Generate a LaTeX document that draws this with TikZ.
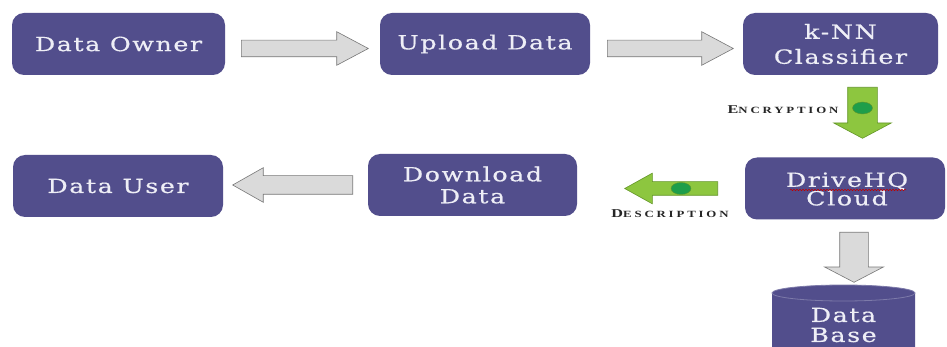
\documentclass[tikz,border=0pt]{standalone}
\usepackage{fontspec}
\setmainfont{Liberation Serif}
\newfontfamily\boxfont[FakeStretch=1.3,LetterSpace=8,FakeBold=0.6]{DejaVu Serif}
\newfontfamily\lblfont[FakeStretch=1.35,LetterSpace=30]{Liberation Serif Bold}
\usetikzlibrary{shapes.arrows,shapes.geometric,decorations.pathmorphing}
\definecolor{boxblue}{RGB}{82,78,140}
\definecolor{boxtext}{RGB}{238,238,246}
\definecolor{arrowgray}{RGB}{218,218,218}
\definecolor{arrowedge}{RGB}{120,120,120}
\definecolor{agreen}{RGB}{141,198,63}
\definecolor{agreenedge}{RGB}{100,150,40}
\definecolor{dotgreen}{RGB}{30,158,74}
\newcommand{\lblsc}[2]{{\fontsize{12}{12}\selectfont #1}{\fontsize{9.5}{9.5}\selectfont #2}}
\begin{document}
\begin{tikzpicture}[x=1pt,y=-1pt,
  box/.style={fill=boxblue, rounded corners=12pt, text=boxtext, align=center,
    inner sep=0pt, font=\boxfont\fontsize{19.5}{22}\selectfont},
  boxtxt/.style={text=boxtext, align=center, inner sep=0pt, font=\boxfont\fontsize{19.5}{20}\selectfont},
  blockarrow/.style={single arrow, single arrow head indent=0pt, inner xsep=0pt, line width=0.6pt, anchor=tail},
  grayarrow/.style={blockarrow, draw=arrowedge, fill=arrowgray},
  greenarrow/.style={blockarrow, draw=agreenedge, fill=agreen},
  gdot/.style={ellipse, fill=dotgreen, draw=agreenedge, minimum width=20pt, minimum height=12pt, inner sep=0pt},
  lbl/.style={font=\lblfont, text=black!85, inner sep=0pt}
]
\useasboundingbox (0,0) rectangle (947,347);
\clip (0,0) rectangle (947,347);
\fill[white] (0,0) rectangle (947,347);

% boxes
\node[box, minimum width=213pt, minimum height=62pt] (owner) at (118.5,44) {Data Owner};
\node[box, minimum width=210pt, minimum height=62pt] (upload) at (485,44) {Upload Data};
\node[box, minimum width=195pt, minimum height=62pt, font=\boxfont\fontsize{19.5}{25}\selectfont] (knn) at (840.5,44) {k-NN\\Classifier};
\node[box, minimum width=200pt, minimum height=62pt] (cloud) at (845,188.5) {};
\node[boxtxt, font=\boxfont\fontsize{19.5}{18.5}\selectfont] (cloudtxt) at (847,189) {DriveHQ\\Cloud};
\node[box, minimum width=209pt, minimum height=62pt] (download) at (472.5,185) {Download\\Data};
\node[box, minimum width=210pt, minimum height=62pt] (user) at (118,186) {Data User};

% spell-check squiggle
\draw[red!75!black, line width=0.5pt, decorate, decoration={snake, amplitude=0.7pt, segment length=3pt}]
  (790,190) -- (906,190);

% database cylinder
\path[fill=boxblue] (772,293) -- (772,352) arc[start angle=180, end angle=0, x radius=71.5, y radius=8]
  -- (915,293) arc[start angle=0, end angle=-180, x radius=71.5, y radius=8] -- cycle;
\draw[boxblue!75!white, line width=0.8pt] (843.5,293) ellipse[x radius=71.5, y radius=8];
\node[boxtxt] (db) at (843.5,325) {Data\\Base};

% arrows
\node[grayarrow, minimum height=127pt, inner ysep=8pt, single arrow head extend=8.5pt,
  single arrow tip angle=56] (a1) at (241,48.5) {};
\node[grayarrow, minimum height=126pt, inner ysep=8pt, single arrow head extend=8.5pt,
  single arrow tip angle=56] (a2) at (607,48.5) {};
\node[greenarrow, shape border rotate=270, minimum height=51pt, inner xsep=14.5pt, inner ysep=0pt,
  single arrow head extend=14pt, single arrow tip angle=124] (enc) at (862.5,87) {};
\node[gdot] (encdot) at (862.5,108) {};
\node[greenarrow, shape border rotate=180, minimum height=93pt, inner ysep=6.5pt,
  single arrow head extend=8.5pt, single arrow tip angle=58] (dec) at (718,188.5) {};
\node[gdot] (decdot) at (681,188.5) {};
\node[grayarrow, shape border rotate=180, minimum height=120pt, inner ysep=9pt,
  single arrow head extend=8pt, single arrow tip angle=59] (a3) at (353,185) {};
\node[grayarrow, shape border rotate=270, minimum height=50pt, inner xsep=14pt, inner ysep=0pt,
  single arrow head extend=15pt, single arrow tip angle=125] (a4) at (854,232) {};

% labels
\node[lbl] (enclbl) at (783,110) {\lblsc{E}{NCRYPTION}};
\node[lbl] (declbl) at (670,214) {\lblsc{D}{ESCRIPTION}};
\end{tikzpicture}
\end{document}
